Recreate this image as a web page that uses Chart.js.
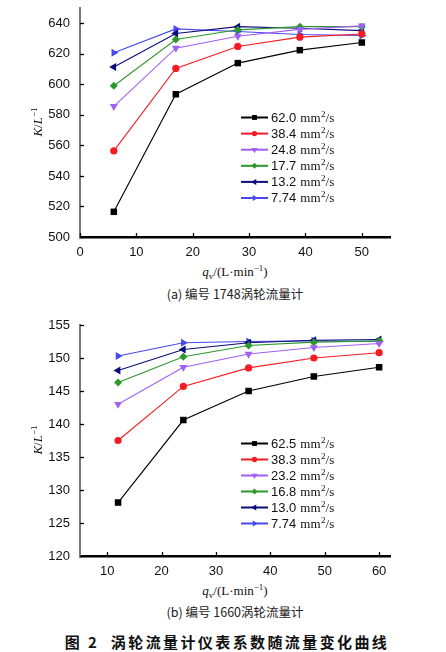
<!DOCTYPE html>
<html>
<head>
<meta charset="utf-8">
<script src="https://cdn.jsdelivr.net/npm/chart.js@4.4.0/dist/chart.umd.min.js"></script>
<style>
  body { margin: 0; background: #fff; }
  #page { position: relative; width: 446px; height: 652px; overflow: hidden; background: #fff; }
  canvas { position: absolute; left: 0; }
  .lbl { position: absolute; transform: translate(-50%, -50%); white-space: nowrap; color: #111; }
  .serif { font-family: "Liberation Serif", "DejaVu Serif", serif; font-size: 13px; }
  .rot { transform: translate(-50%, -50%) rotate(-90deg); }
  .cap { font-family: "Noto Sans CJK SC", sans-serif; font-size: 12.5px; color: #222; }
  .fig { font-family: "Noto Sans CJK SC", sans-serif; font-size: 15px; font-weight: bold; letter-spacing: 2.4px; }
  sup { font-size: 9px; vertical-align: 5px; line-height: 0; }
  sub { font-size: 9px; vertical-align: -3px; line-height: 0; }
</style>
</head>
<body>
<div id="page">
  <canvas id="chartA" width="446" height="262" style="top:0"></canvas>
  <canvas id="chartB" width="446" height="264" style="top:317px"></canvas>

  <div class="lbl serif rot" style="left:38px; top:122px"><i>K</i>/<i>L</i><sup>−1</sup></div>
  <div class="lbl serif" style="left:235px; top:272px"><i>q</i><sub>v</sub>/(L·min<sup>−1</sup>)</div>
  <div class="lbl cap" style="left:235px; top:293px">(a) 编号 1748涡轮流量计</div>

  <div class="lbl serif rot" style="left:38px; top:440px"><i>K</i>/<i>L</i><sup>−1</sup></div>
  <div class="lbl serif" style="left:235px; top:591px"><i>q</i><sub>v</sub>/(L·min<sup>−1</sup>)</div>
  <div class="lbl cap" style="left:235px; top:611px">(b) 编号 1660涡轮流量计</div>

  <div class="lbl fig" style="left:227px; top:641px">图 2&nbsp;&nbsp;涡轮流量计仪表系数随流量变化曲线</div>
</div>

<script>
// Fig 2 - turbine flowmeter K factor vs flow rate

// (a) meter 1748
const qA = [6, 17, 28, 39, 50];
const viscA = ['62.0', '38.4', '24.8', '17.7', '13.2', '7.74'];
const kA_620 = [516.5, 593.5, 613.9, 622.4, 627.4];
const kA_384 = [556.4, 610.4, 624.8, 630.9, 633.0];
const kA_248 = [585.6, 623.7, 631.5, 636.0, 638.3];
const kA_177 = [599.1, 629.4, 635.7, 637.8, 637.8];
const kA_132 = [611.3, 633.3, 637.8, 636.7, 635.2];
const kA_774 = [620.7, 636.3, 634.6, 632.6, 632.0];
const xTicksA = [0, 10, 20, 30, 40, 50];
const yTicksA = [500, 520, 540, 560, 580, 600, 620, 640];

// (b) meter 1660
const qB = [12, 24, 36, 48, 60];
const viscB = ['62.5', '38.3', '23.2', '16.8', '13.0', '7.74'];
const kB_625 = [128.1, 140.6, 145.0, 147.2, 148.6];
const kB_383 = [137.5, 145.7, 148.5, 150.0, 150.8];
const kB_232 = [143.0, 148.6, 150.6, 151.6, 152.2];
const kB_168 = [146.3, 150.2, 151.9, 152.4, 152.6];
const kB_130 = [148.1, 151.3, 152.3, 152.7, 152.8];
const kB_774 = [150.3, 152.3, 152.5, 152.6, 152.5];
const xTicksB = [10, 20, 30, 40, 50, 60];
const yTicksB = [120, 125, 130, 135, 140, 145, 150, 155];

const colors = {
    black: '#000000',
    red: '#f41c24',
    purple: '#a060f4',
    green: '#2c982c',
    navy: '#0c0c7c',
    blue: '#4848f0',
    axisGray: '#7a7a7a'
};

// marker per series, same order in both charts
const markers = [
    { color: colors.black,  style: 'rect',     rot: 0,   r: 4.6 },
    { color: colors.red,    style: 'circle',   rot: 0,   r: 3.6 },
    { color: colors.purple, style: 'triangle', rot: 180, r: 4.6 },
    { color: colors.green,  style: 'rectRot',  rot: 0,   r: 4.0 },
    { color: colors.navy,   style: 'triangle', rot: -90, r: 4.6 },
    { color: colors.blue,   style: 'triangle', rot: 90,  r: 4.6 }
];

function makeDatasets(xs, series, labels) {
    return series.map((ys, i) => ({
        label: labels[i],
        data: xs.map((x, j) => ({ x: x, y: ys[j] })),
        borderColor: markers[i].color,
        backgroundColor: markers[i].color,
        borderWidth: 1.1,
        pointStyle: markers[i].style,
        pointRotation: markers[i].rot,
        pointRadius: markers[i].r,
        pointBorderWidth: 0,
        tension: 0
    }));
}

// small tick marks pointing into the plot
const innerTicks = {
    id: 'innerTicks',
    afterDatasetsDraw(chart) {
        const { ctx, chartArea, scales } = chart;
        ctx.save();
        ctx.strokeStyle = '#000';
        ctx.lineWidth = 1.3;
        scales.x.ticks.forEach(t => {
            const px = Math.round(scales.x.getPixelForValue(t.value)) + 0.5;
            ctx.beginPath();
            ctx.moveTo(px, chartArea.bottom);
            ctx.lineTo(px, chartArea.bottom - 4);
            ctx.stroke();
        });
        scales.y.ticks.forEach(t => {
            const py = Math.round(scales.y.getPixelForValue(t.value)) + 0.5;
            ctx.beginPath();
            ctx.moveTo(chartArea.left, py);
            ctx.lineTo(chartArea.left + 4, py);
            ctx.stroke();
        });
        ctx.restore();
    }
};

// legend drawn inside the plot area
const innerLegend = {
    id: 'innerLegend',
    afterDraw(chart, args, opts) {
        const { ctx, chartArea } = chart;
        const x0 = chartArea.left + opts.dx;
        let y = chartArea.top + opts.dy;
        ctx.save();
        chart.data.datasets.forEach(ds => {
            ctx.strokeStyle = ds.borderColor;
            ctx.lineWidth = 2;
            ctx.beginPath();
            ctx.moveTo(x0, y);
            ctx.lineTo(x0 + 27, y);
            ctx.stroke();
            ctx.fillStyle = ds.backgroundColor;
            Chart.helpers.drawPoint(ctx, {
                pointStyle: ds.pointStyle,
                rotation: ds.pointRotation,
                radius: ds.pointRadius * 0.75,
                borderWidth: 0
            }, x0 + 13.5, y);

            // number in sans, unit in serif
            ctx.fillStyle = '#111';
            ctx.textBaseline = 'middle';
            ctx.textAlign = 'left';
            let tx = x0 + 30;
            ctx.font = '13px "Liberation Sans", Arial, sans-serif';
            ctx.fillText(ds.label, tx, y + 0.5);
            tx += ctx.measureText(ds.label).width + 4;
            ctx.font = '13px "Liberation Serif", serif';
            ctx.fillText('mm', tx, y + 1);
            tx += ctx.measureText('mm').width;
            ctx.font = '9px "Liberation Serif", serif';
            ctx.fillText('2', tx + 0.5, y - 3);
            tx += ctx.measureText('2').width + 0.5;
            ctx.font = '13px "Liberation Serif", serif';
            ctx.fillText('/s', tx, y + 1);
            y += opts.gap;
        });
        ctx.restore();
    }
};

function makeChart(id, xs, series, labels, xTicks, yTicks, xRange, yRange, legendPos) {
    const tickFont = { family: '"Liberation Sans", Arial, sans-serif', size: 13 };
    return new Chart(document.getElementById(id), {
        type: 'line',
        data: { datasets: makeDatasets(xs, series, labels) },
        plugins: [innerTicks, innerLegend],
        options: {
            responsive: false,
            animation: false,
            layout: { padding: { top: 0, right: 56, left: 0, bottom: 0 } },
            plugins: {
                legend: { display: false },
                tooltip: { enabled: false },
                innerLegend: legendPos
            },
            scales: {
                x: {
                    type: 'linear',
                    min: xRange[0],
                    max: xRange[1],
                    afterBuildTicks: s => { s.ticks = xTicks.map(v => ({ value: v })); },
                    afterFit: s => { s.height = 25; s.paddingLeft = 0; s.paddingRight = 0; },
                    grid: { display: false, drawTicks: false },
                    border: { display: true, color: '#000', width: 2.5 },
                    ticks: { font: tickFont, color: '#111', padding: 8, maxRotation: 0, autoSkip: false }
                },
                y: {
                    type: 'linear',
                    min: yRange[0],
                    max: yRange[1],
                    afterBuildTicks: s => { s.ticks = yTicks.map(v => ({ value: v })); },
                    // fixed axis box so the plot area sits where the original does
                    afterFit: s => { s.width = 80; s.paddingTop = 8; s.paddingBottom = 0; },
                    grid: { display: false, drawTicks: false },
                    border: { display: true, color: colors.axisGray, width: 2 },
                    ticks: { font: tickFont, color: '#111', padding: 10, autoSkip: false }
                }
            }
        }
    });
}

makeChart('chartA', qA,
    [kA_620, kA_384, kA_248, kA_177, kA_132, kA_774], viscA,
    xTicksA, yTicksA, [0, 55], [500, 650],
    { dx: 161, dy: 109.5, gap: 16.1 });

makeChart('chartB', qB,
    [kB_625, kB_383, kB_232, kB_168, kB_130, kB_774], viscB,
    xTicksB, yTicksB, [5, 62], [120, 155],
    { dx: 161, dy: 118.5, gap: 16.0 });
</script>
</body>
</html>
